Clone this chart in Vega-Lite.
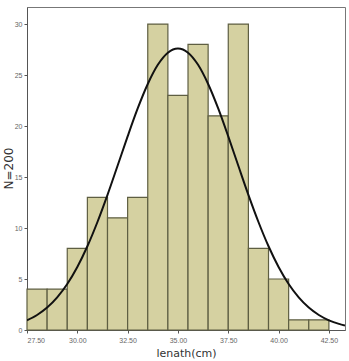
{
  "$schema": "https://vega.github.io/schema/vega-lite/v6.json",
  "width": 318,
  "height": 323,
  "autosize": {"type": "none"},
  "padding": {"left": 27, "top": 7, "right": 4, "bottom": 31},
  "background": "white",
  "config": {
    "view": {"stroke": "#777777", "strokeWidth": 1},
    "axis": {
      "labelFont": "Liberation Sans",
      "labelFontSize": 7,
      "labelColor": "#666666",
      "tickColor": "#555555",
      "domainColor": "#555555",
      "tickSize": 3,
      "grid": false,
      "titleFont": "DejaVu Sans",
      "titleFontWeight": "normal",
      "titleColor": "#333333",
      "titleFontSize": 11
    }
  },
  "datasets": {
    "bins": [
      {"start": 27.5, "end": 28.5, "count": 4},
      {"start": 28.5, "end": 29.5, "count": 4},
      {"start": 29.5, "end": 30.5, "count": 8},
      {"start": 30.5, "end": 31.5, "count": 13},
      {"start": 31.5, "end": 32.5, "count": 11},
      {"start": 32.5, "end": 33.5, "count": 13},
      {"start": 33.5, "end": 34.5, "count": 30},
      {"start": 34.5, "end": 35.5, "count": 23},
      {"start": 35.5, "end": 36.5, "count": 28},
      {"start": 36.5, "end": 37.5, "count": 21},
      {"start": 37.5, "end": 38.5, "count": 30},
      {"start": 38.5, "end": 39.5, "count": 8},
      {"start": 39.5, "end": 40.5, "count": 5},
      {"start": 40.5, "end": 41.5, "count": 1},
      {"start": 41.5, "end": 42.5, "count": 1}
    ],
    "curve": [
      {"x": 27.5, "y": 0.95}, {"x": 28, "y": 1.47}, {"x": 28.5, "y": 2.2}, {"x": 29, "y": 3.2},
      {"x": 29.5, "y": 4.51}, {"x": 30, "y": 6.18}, {"x": 30.5, "y": 8.21}, {"x": 31, "y": 10.59},
      {"x": 31.5, "y": 13.25}, {"x": 32, "y": 16.1}, {"x": 32.5, "y": 18.98}, {"x": 33, "y": 21.72},
      {"x": 33.5, "y": 24.12}, {"x": 34, "y": 26.0}, {"x": 34.5, "y": 27.19}, {"x": 35, "y": 27.6},
      {"x": 35.5, "y": 27.19}, {"x": 36, "y": 26.0}, {"x": 36.5, "y": 24.12}, {"x": 37, "y": 21.72},
      {"x": 37.5, "y": 18.98}, {"x": 38, "y": 16.1}, {"x": 38.5, "y": 13.25}, {"x": 39, "y": 10.59},
      {"x": 39.5, "y": 8.21}, {"x": 40, "y": 6.18}, {"x": 40.5, "y": 4.51}, {"x": 41, "y": 3.2},
      {"x": 41.5, "y": 2.2}, {"x": 42, "y": 1.47}, {"x": 42.5, "y": 0.95}, {"x": 43, "y": 0.6},
      {"x": 43.3, "y": 0.45}
    ]
  },
  "layer": [
    {
      "data": {"name": "bins"},
      "mark": {"type": "rect", "fill": "#d5d1a1", "stroke": "#5e5e42", "strokeWidth": 1.2},
      "encoding": {
        "x": {
          "field": "start", "type": "quantitative",
          "scale": {"domain": [27.5, 43.3], "nice": false, "zero": false},
          "axis": {
            "values": [27.5, 30, 32.5, 35, 37.5, 40, 42.5],
            "format": ".2f",
            "title": "lenath(cm)",
            "titlePadding": 4,
            "labelPadding": 3
          }
        },
        "x2": {"field": "end"},
        "y": {
          "field": "count", "type": "quantitative",
          "scale": {"domain": [0, 31.67], "nice": false},
          "axis": {
            "values": [0, 5, 10, 15, 20, 25, 30],
            "title": "N=200",
            "titleX": -19,
            "titleY": 161,
            "titleAlign": "center",
            "titleBaseline": "middle",
            "titleAngle": 270,
            "titleFontSize": 12,
            "labelPadding": 2
          }
        },
        "y2": {"datum": 0}
      }
    },
    {
      "data": {"name": "curve"},
      "mark": {"type": "line", "color": "#111111", "strokeWidth": 2, "interpolate": "monotone", "clip": true},
      "encoding": {
        "x": {"field": "x", "type": "quantitative"},
        "y": {"field": "y", "type": "quantitative"}
      }
    }
  ]
}
